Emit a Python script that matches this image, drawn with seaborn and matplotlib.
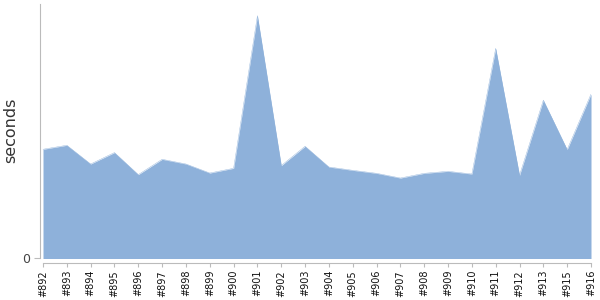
import matplotlib
matplotlib.use("Agg")
import matplotlib.pyplot as plt
import seaborn as sns
import numpy as np
import pandas as pd

builds = ["#892", "#893", "#894", "#895", "#896", "#897", "#898", "#899", "#900",
          "#901", "#902", "#903", "#904", "#905", "#906", "#907", "#908", "#909",
          "#910", "#911", "#912", "#913", "#915", "#916"]
seconds = [109, 113, 94.3, 105.7, 83.7, 99, 94.3, 85.3, 90,
           242.3, 92.7, 112, 91.3, 88, 85, 80.3, 85, 87,
           84.3, 209.7, 83, 158, 108.7, 164]

df = pd.DataFrame({"pos": np.arange(len(builds)), "build": builds, "seconds": seconds})

sns.set_theme(style="white")
plt.rcParams["font.family"] = ["DejaVu Sans"]

fig = plt.figure(figsize=(6, 3), dpi=100)
ax = fig.add_axes([40 / 600, 1 - 263 / 300, (591 - 40) / 600, (263 - 4) / 300])

fill_color = "#8eb1da"
sns.lineplot(data=df, x="pos", y="seconds", ax=ax, color=fill_color, linewidth=0.3)
ax.fill_between(df["pos"], 0, df["seconds"], color=fill_color, linewidth=0)

ax.set_xlim(-0.126, len(builds) - 1)
ax.set_ylim(-4.5, 254)

ax.set_xticks(df["pos"])
ax.set_xticklabels(builds, rotation=90, fontsize=7, color="#111111")
ax.set_yticks([0])
ax.set_yticklabels(["0"], fontsize=9, color="#444444")

ax.set_xlabel("")
ax.set_ylabel("seconds", fontsize=11.5, color="#333333")
ax.yaxis.set_label_coords((18 - 40) / 551, (263 - 130) / 259)

for s in ["top", "right"]:
    ax.spines[s].set_visible(False)
for s in ["left", "bottom"]:
    ax.spines[s].set_color("#bbbbbb")
    ax.spines[s].set_linewidth(0.8)
ax.spines["bottom"].set_bounds(0, len(builds) - 1)
ax.spines["left"].set_bounds(0, 254)

ax.tick_params(axis="x", direction="out", length=3, width=0.8, color="#bbbbbb", pad=2, bottom=True)
ax.tick_params(axis="y", direction="out", length=4, width=0.8, color="#bbbbbb", pad=3, left=True)

fig.savefig("out.png", dpi=100)
